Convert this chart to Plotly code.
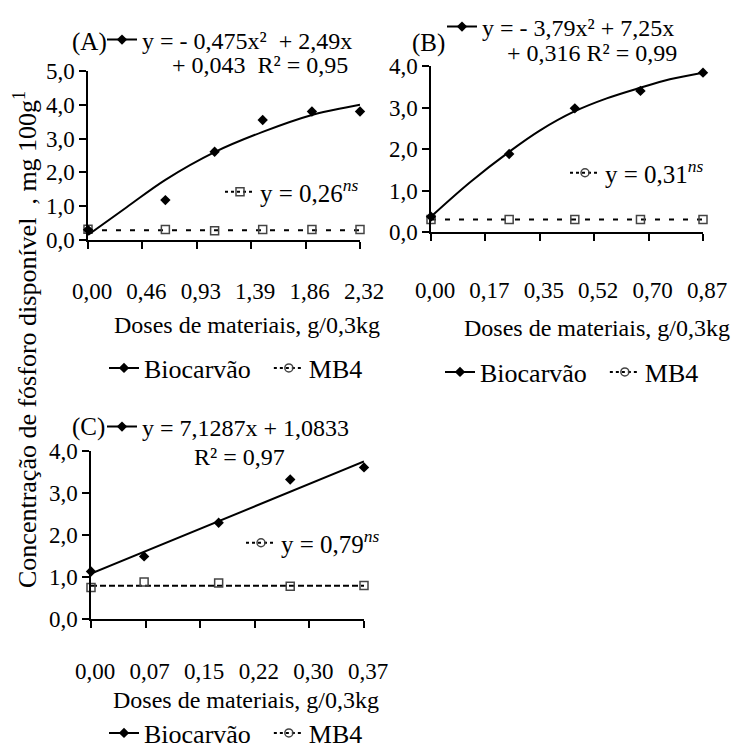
import plotly.graph_objects as go

W, H = 740, 751
FONT = "Liberation Serif"

# ---------------- data ----------------
# Panel A
xA = [0.0, 0.66, 1.08, 1.49, 1.91, 2.32]
bioA = [0.30, 1.18, 2.61, 3.55, 3.80, 3.80]
mb4A = [0.32, 0.31, 0.27, 0.31, 0.31, 0.31]
trendA_x = [0.0, 0.33, 0.66, 1.08, 1.49, 1.91, 2.20, 2.32]
trendA_y = [0.15, 0.97, 1.78, 2.60, 3.20, 3.70, 3.92, 4.00]
mb4A_fit_x = [0.0, 2.32]
mb4A_fit_y = [0.29, 0.29]
xticksA = [0.0, 0.464, 0.928, 1.392, 1.856, 2.32]
xtick_textA = ["0,00", "0,46", "0,93", "1,39", "1,86", "2,32"]
yticksA = [0, 1, 2, 3, 4, 5]
ytick_textA = ["0,0", "1,0", "2,0", "3,0", "4,0", "5,0"]

# Panel B
xB = [0.0, 0.25, 0.46, 0.67, 0.87]
bioB = [0.37, 1.88, 2.98, 3.40, 3.84]
mb4B = [0.30, 0.30, 0.30, 0.30, 0.30]
trendB_x = [0.0, 0.125, 0.253, 0.349, 0.457, 0.562, 0.671, 0.764, 0.87]
trendB_y = [0.37, 1.20, 1.95, 2.45, 2.90, 3.22, 3.48, 3.68, 3.84]
mb4B_fit_x = [0.0, 0.87]
mb4B_fit_y = [0.30, 0.30]
xticksB = [0.0, 0.174, 0.348, 0.522, 0.696, 0.87]
xtick_textB = ["0,00", "0,17", "0,35", "0,52", "0,70", "0,87"]
yticksB = [0, 1, 2, 3, 4]
ytick_textB = ["0,0", "1,0", "2,0", "3,0", "4,0"]

# Panel C
xC = [0.0, 0.072, 0.173, 0.27, 0.37]
bioC = [1.13, 1.49, 2.29, 3.32, 3.61]
mb4C = [0.75, 0.88, 0.86, 0.78, 0.80]
trendC_x = [0.0, 0.37]
trendC_y = [1.08, 3.75]
mb4C_fit_x = [0.0, 0.37]
mb4C_fit_y = [0.79, 0.79]
xticksC = [0.0, 0.074, 0.148, 0.222, 0.296, 0.37]
xtick_textC = ["0,00", "0,07", "0,15", "0,22", "0,30", "0,37"]
yticksC = [0, 1, 2, 3, 4]
ytick_textC = ["0,0", "1,0", "2,0", "3,0", "4,0"]

series_names = ["Biocarvão", "MB4"]
eqA_bio = ["y = - 0,475x²  + 2,49x", "+ 0,043  R² = 0,95"]
eqB_bio = ["y = - 3,79x² + 7,25x", "+ 0,316 R² = 0,99"]
eqC_bio = ["y = 7,1287x + 1,0833", "R² = 0,97"]
eqA_mb4 = "y = 0,26<sup><i>ns</i></sup>"
eqB_mb4 = "y = 0,31<sup><i>ns</i></sup>"
eqC_mb4 = "y = 0,79<sup><i>ns</i></sup>"
panel_labels = ["(A)", "(B)", "(C)"]
x_title = "Doses de materiais, g/0,3kg"
y_title = "Concentração de fósforo disponível  , mg 100g<sup>1</sup>"


def px(x):
    return x / W


def py(y):
    return 1 - y / H


fig = go.Figure()

BIO_MARK = dict(symbol="diamond", size=8, color="black")
MB4_MARK = dict(symbol="square-open", size=8, color="#444", line=dict(width=1.5, color="#444"))
MB4_LEG = dict(symbol="circle-open", size=8, color="#444", line=dict(width=1.5, color="#444"))

panels = [
    ("x", "y", xA, bioA, mb4A, trendA_x, trendA_y, mb4A_fit_x, mb4A_fit_y, "5px,9px", "square-open"),
    ("x2", "y2", xB, bioB, mb4B, trendB_x, trendB_y, mb4B_fit_x, mb4B_fit_y, "5px,9px", "circle-open"),
    ("x3", "y3", xC, bioC, mb4C, trendC_x, trendC_y, mb4C_fit_x, mb4C_fit_y, "6px,3px", "circle-open"),
]

for i, (xa, ya, xs, bio, mb4, tx, ty, fx, fy, dash, eqsym) in enumerate(panels):
    fig.add_trace(go.Scatter(x=fx, y=fy, mode="lines", xaxis=xa, yaxis=ya,
                             line=dict(color="black", width=2, dash=dash),
                             showlegend=False, cliponaxis=False, hoverinfo="skip"))
    fig.add_trace(go.Scatter(x=xs, y=mb4, mode="markers", xaxis=xa, yaxis=ya,
                             marker=MB4_MARK, showlegend=False, cliponaxis=False))
    fig.add_trace(go.Scatter(x=tx, y=ty, mode="lines", xaxis=xa, yaxis=ya,
                             line=dict(color="black", width=2, shape="spline"),
                             showlegend=False, cliponaxis=False, hoverinfo="skip"))
    fig.add_trace(go.Scatter(x=xs, y=bio, mode="markers", xaxis=xa, yaxis=ya,
                             marker=BIO_MARK, showlegend=False, cliponaxis=False))

    k = 3 * i
    lg1 = "legend" if k == 0 else f"legend{k + 1}"
    lg2 = f"legend{k + 2}"
    lg3 = f"legend{k + 3}"
    eq_bio = [eqA_bio, eqB_bio, eqC_bio][i][0]
    eq_mb4 = [eqA_mb4, eqB_mb4, eqC_mb4][i]
    fig.add_trace(go.Scatter(x=[None], y=[None], mode="lines+markers", xaxis=xa, yaxis=ya,
                             line=dict(color="black", width=2), marker=BIO_MARK,
                             name=eq_bio, legend=lg1))
    fig.add_trace(go.Scatter(x=[None], y=[None], mode="lines+markers", xaxis=xa, yaxis=ya,
                             line=dict(color="black", width=2, dash="3px,3px"),
                             marker=dict(MB4_MARK, symbol=eqsym),
                             name=eq_mb4, legend=lg2))
    fig.add_trace(go.Scatter(x=[None], y=[None], mode="lines+markers", xaxis=xa, yaxis=ya,
                             line=dict(color="black", width=2), marker=BIO_MARK,
                             name=series_names[0] + "\u00a0\u00a0", legend=lg3))
    fig.add_trace(go.Scatter(x=[None], y=[None], mode="lines+markers", xaxis=xa, yaxis=ya,
                             line=dict(color="black", width=2, dash="3px,3px"), marker=MB4_LEG,
                             name=series_names[1], legend=lg3))


def axis_common():
    return dict(showline=True, linecolor="black", linewidth=1.5, ticks="outside",
                ticklen=7, tickwidth=1.5, tickcolor="black", showgrid=False,
                zeroline=False, tickfont=dict(family=FONT, size=23, color="black"))


geo = {
    "A": dict(x0=88, x1=360, ybot=240, ytop=71),
    "B": dict(x0=431, x1=703, ybot=232, ytop=66),
    "C": dict(x0=91, x1=364, ybot=619, ytop=451),
}

layout = dict(
    width=W, height=H, margin=dict(l=0, r=0, t=0, b=0, autoexpand=False),
    paper_bgcolor="white", plot_bgcolor="white",
    font=dict(family=FONT, size=24, color="black"),
    showlegend=True,
)

specs = [
    ("A", "xaxis", "yaxis", "y", "x", [0, 2.32], [0, 5], xticksA, xtick_textA, yticksA, ytick_textA, 23),
    ("B", "xaxis2", "yaxis2", "y2", "x2", [0, 0.87], [0, 4], xticksB, xtick_textB, yticksB, ytick_textB, 30),
    ("C", "xaxis3", "yaxis3", "y3", "x3", [0, 0.37], [0, 4], xticksC, xtick_textC, yticksC, ytick_textC, 24),
]
for key, xk, yk, yanc, xanc, xr, yr, xtv, xtt, ytv, ytt, stand in specs:
    g = geo[key]
    ax = axis_common()
    ax.update(domain=[px(g["x0"]), px(g["x1"])], range=xr, anchor=yanc,
              tickmode="array", tickvals=xtv, ticktext=xtt,
              ticklabelstandoff=stand, ticklabelshift=4)
    layout[xk] = ax
    ay = axis_common()
    ay.update(domain=[py(g["ybot"]), py(g["ytop"])], range=yr, anchor=xanc,
              tickmode="array", tickvals=ytv, ticktext=ytt)
    layout[yk] = ay

# legends: (name, x_px of legend left, y_px center, orientation, font size)
leg_pos = [
    ("legend", 102, 40, "v", 24), ("legend2", 220, 192, "v", 25), ("legend3", 104, 368, "h", 26),
    ("legend4", 442, 27, "v", 24), ("legend5", 565, 173, "v", 25), ("legend6", 440, 372, "h", 26),
    ("legend7", 102, 427, "v", 24), ("legend8", 241, 543, "v", 25), ("legend9", 104, 733, "h", 26),
]
for name, lx, ly, ori, fs in leg_pos:
    layout[name] = dict(x=px(lx), y=py(ly), xanchor="left", yanchor="middle",
                        orientation=ori, bgcolor="rgba(0,0,0,0)", borderwidth=0,
                        font=dict(family=FONT, size=fs, color="black"),
                        itemwidth=30, tracegroupgap=0)

fig.update_layout(**layout)

ann = []


def add_text(text, x, y, size=24, xanchor="left", angle=0):
    ann.append(dict(text=text, x=px(x), y=py(y), xref="paper", yref="paper",
                    xanchor=xanchor, yanchor="middle", showarrow=False, textangle=angle,
                    font=dict(family=FONT, size=size, color="black")))


add_text(panel_labels[0], 70, 42, size=25)
add_text(panel_labels[1], 410, 43, size=25)
add_text(panel_labels[2], 70, 427, size=25)
add_text(eqA_bio[1], 170, 65)
add_text(eqB_bio[1], 505, 53)
add_text(eqC_bio[1], 192, 457)
add_text(x_title, 247, 325, xanchor="center")
add_text(x_title, 597, 328, xanchor="center")
add_text(x_title, 246, 700, xanchor="center")
add_text(y_title, 25, 340, size=26, xanchor="center", angle=-90)

fig.update_layout(annotations=ann)
fig.write_html("out.html")
